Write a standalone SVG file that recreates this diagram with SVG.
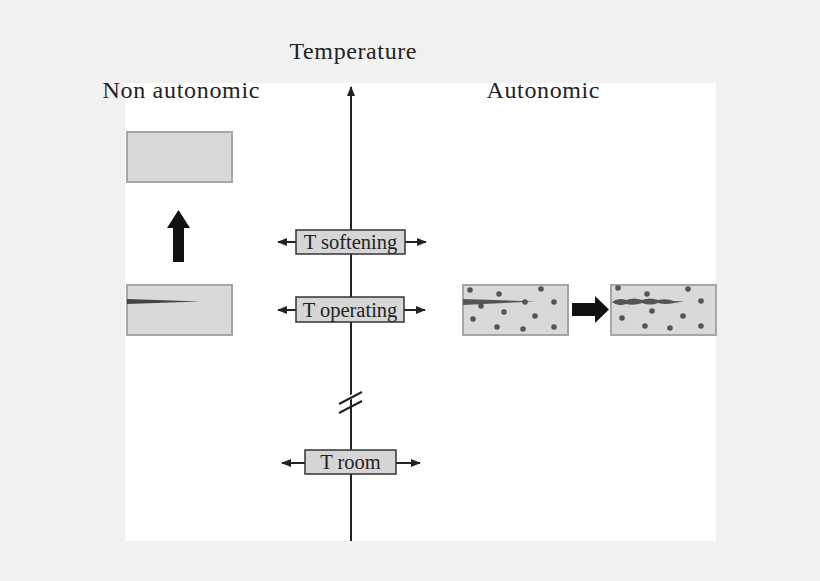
<svg xmlns="http://www.w3.org/2000/svg" width="820" height="581" viewBox="0 0 820 581">
<defs>
<style>
text{font-family:"Liberation Serif",serif;fill:#222}
.t{font-size:24px}
.lb{font-size:20.5px}
.box{fill:#d9d9d9;stroke:#a6a6a6;stroke-width:2}
.lbox{fill:#d6d6d6;stroke:#333;stroke-width:1.5}
.ln{stroke:#222;stroke-width:2;fill:none}
.dot{fill:#555}
</style>
<marker id="ah" viewBox="0 0 10 10" refX="9" refY="5" markerWidth="5" markerHeight="5" orient="auto-start-reverse"><path d="M0,1 L10,5 L0,9 Z" fill="#222"/></marker>
<linearGradient id="g" x1="0" y1="0" x2="0" y2="1"><stop offset="0" stop-color="#eee"/><stop offset="1" stop-color="#cfcfcf"/></linearGradient>
</defs>
<rect width="820" height="581" fill="#f1f1f1"/>
<rect x="125" y="83" width="591" height="458" fill="#fff"/>
<text class="t" x="353" y="59" text-anchor="middle" textLength="127">Temperature</text>
<text class="t" x="181" y="98" text-anchor="middle" textLength="157">Non autonomic</text>
<text class="t" x="543" y="98" text-anchor="middle" textLength="113">Autonomic</text>
<g id="connectors">
<line class="ln" x1="351" y1="541" x2="351" y2="87" marker-end="url(#ah)"/>
<line x1="340" y1="403" x2="362" y2="391" stroke="#fff" stroke-width="4"/>
<line class="ln" x1="339" y1="404" x2="362" y2="392"/>
<line class="ln" x1="339" y1="413" x2="362" y2="401"/>
<line class="ln" x1="278" y1="242" x2="426" y2="242" marker-start="url(#ah)" marker-end="url(#ah)"/>
<line class="ln" x1="278" y1="310" x2="425" y2="310" marker-start="url(#ah)" marker-end="url(#ah)"/>
<line class="ln" x1="282" y1="463" x2="420" y2="463" marker-start="url(#ah)" marker-end="url(#ah)"/>
<path d="M173,262 V228 H167 L178.5,210 L190,228 H184 V262 Z" fill="#111"/>
<path d="M572,303 H595 V296 L609,309.5 L595,323 V316 H572 Z" fill="#111"/>
</g>
<g id="t-softening"><rect class="lbox" x="296" y="230" width="109" height="24" fill="url(#g)"/><text class="lb" x="350.5" y="248.5" text-anchor="middle">T softening</text></g>
<g id="t-operating"><rect class="lbox" x="296" y="297" width="108" height="25" fill="url(#g)"/><text class="lb" x="350" y="316.5" text-anchor="middle">T operating</text></g>
<g id="t-room"><rect class="lbox" x="305" y="450" width="91" height="24" fill="url(#g)"/><text class="lb" x="350.5" y="468.5" text-anchor="middle">T room</text></g>
<g id="na-top"><rect class="box" x="127" y="132" width="105" height="50"/></g>
<g id="na-bottom"><rect class="box" x="127" y="285" width="105" height="50"/><path d="M127,299 L200,301.5 L127,304 Z" fill="#444"/></g>
<g id="a-before"><rect class="box" x="463" y="285" width="105" height="50"/>
<path d="M463,299 L536,301.5 L463,305 Z" fill="#555"/>
<g class="dot"><circle cx="470" cy="290" r="2.8"/><circle cx="499" cy="294" r="2.8"/><circle cx="541" cy="289" r="2.8"/><circle cx="554" cy="302" r="2.8"/><circle cx="481" cy="306" r="2.8"/><circle cx="525" cy="302" r="2.8"/><circle cx="504" cy="312" r="2.8"/><circle cx="535" cy="316" r="2.8"/><circle cx="473" cy="319" r="2.8"/><circle cx="497" cy="327" r="2.8"/><circle cx="523" cy="329" r="2.8"/><circle cx="554" cy="327" r="2.8"/></g></g>
<g id="a-after"><rect class="box" x="611" y="285" width="105" height="50"/>
<path d="M612,302 Q618,297 626,300 Q634,297 642,300 Q650,297 658,300 Q666,298 674,301 L684,301.5 L674,303 Q666,305 658,303 Q650,306 642,303 Q634,306 626,304 Q618,307 612,302 Z" fill="#555"/>
<g class="dot"><circle cx="618" cy="288" r="2.8"/><circle cx="647" cy="294" r="2.8"/><circle cx="688" cy="289" r="2.8"/><circle cx="701" cy="301" r="2.8"/><circle cx="652" cy="311" r="2.8"/><circle cx="683" cy="316" r="2.8"/><circle cx="622" cy="318" r="2.8"/><circle cx="645" cy="326" r="2.8"/><circle cx="670" cy="328" r="2.8"/><circle cx="701" cy="326" r="2.8"/></g></g>
</svg>
